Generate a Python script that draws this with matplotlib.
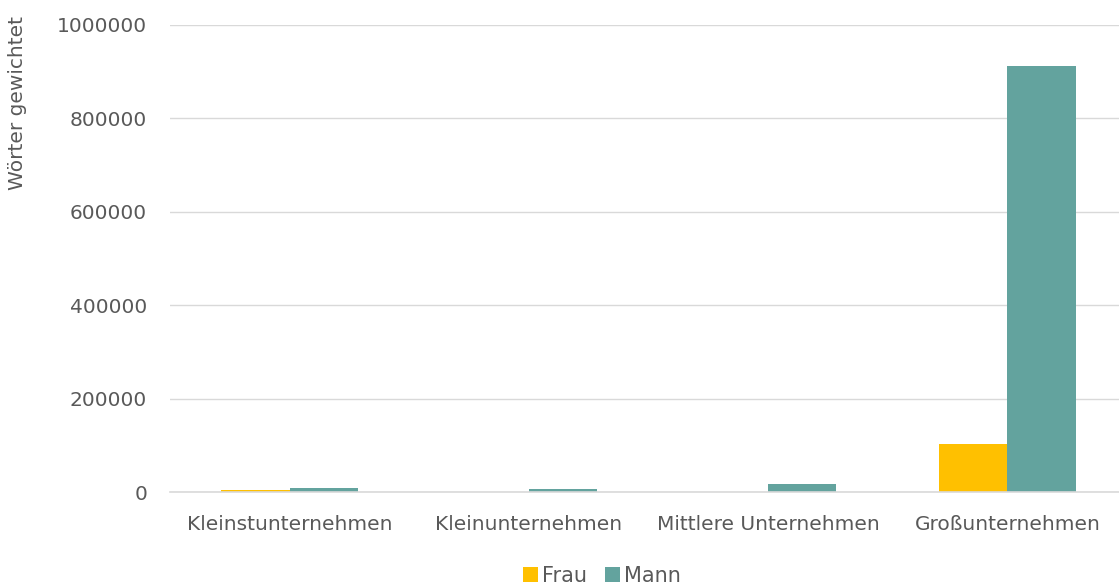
import numpy as np
import matplotlib.pyplot as plt
from matplotlib.ticker import FuncFormatter

kategorien = ["Kleinstunternehmen", "Kleinunternehmen", "Mittlere Unternehmen", "Großunternehmen"]
frau = [5000, 500, 900, 103000]
mann = [8500, 7000, 17000, 912000]

text_farbe = "#595959"
plt.rcParams["font.family"] = "DejaVu Sans"

fig = plt.figure(figsize=(11.19, 5.87), dpi=100)
ax = fig.add_axes([170 / 1119, 1 - 492 / 587, 957 / 1119, 467 / 587])

x = np.arange(len(kategorien))
w = 0.285
ax.bar(x - w / 2, frau, w, color="#FFC000", label="Frau", zorder=3)
ax.bar(x + w / 2, mann, w, color="#63A39E", label="Mann", zorder=3)

ax.set_xlim(-0.5, 3.5)
ax.set_ylim(0, 1000000)
ax.set_yticks(np.arange(0, 1000001, 200000))
ax.yaxis.set_major_formatter(FuncFormatter(lambda v, p: f"{int(v)}"))
ax.set_xticks(x)
ax.set_xticklabels(kategorien)
ax.yaxis.grid(True, color="#d9d9d9", linewidth=1, zorder=0)
ax.tick_params(axis="both", length=0, labelsize=14.5, colors=text_farbe)
ax.tick_params(axis="x", pad=16.5)
ax.tick_params(axis="y", pad=16.5)
for s in ["top", "right", "left"]:
    ax.spines[s].set_visible(False)
ax.spines["bottom"].set_color("#d9d9d9")
ax.spines["bottom"].set_linewidth(1.2)
ax.spines["bottom"].set_zorder(4)

fig.text(18 / 1119, 1 - 103 / 587, "Wörter gewichtet", rotation=90,
         ha="center", va="center", fontsize=14.5, color=text_farbe)

leg = fig.legend(loc="center", bbox_to_anchor=(602 / 1119, 1 - 576 / 587), ncol=2,
                 frameon=False, fontsize=15, handlelength=0.7, handleheight=0.7,
                 handletextpad=0.2, columnspacing=0.9)
for t in leg.get_texts():
    t.set_color(text_farbe)

fig.savefig("out.png", dpi=100)
